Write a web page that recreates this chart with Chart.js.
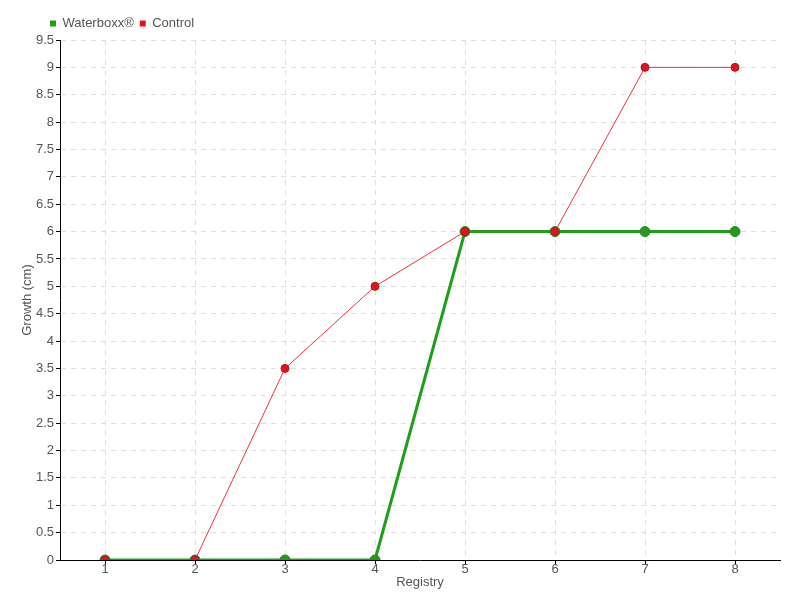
<!DOCTYPE html>
<html>
<head>
<meta charset="utf-8">
<script src="https://cdn.jsdelivr.net/npm/chart.js@4/dist/chart.umd.min.js"></script>
<style>
  html, body { margin: 0; padding: 0; background: #fff; }
  #wrap { width: 800px; height: 600px; }
</style>
</head>
<body>
<div id="wrap"><canvas id="growthChart" width="800" height="600"></canvas></div>
<script>
const registries = ['1', '2', '3', '4', '5', '6', '7', '8'];
const waterboxxGrowth = [0, 0, 0, 0, 6, 6, 6, 6];
const controlGrowth = [0, 0, 3.5, 5, 6, 6, 9, 9];
const yTicks = [0, 0.5, 1, 1.5, 2, 2.5, 3, 3.5, 4, 4.5, 5, 5.5, 6, 6.5, 7, 7.5, 8, 8.5, 9, 9.5];

const FONT = "'Liberation Sans', 'Roboto', sans-serif";
const TEXT = '#555555';

Chart.defaults.font.family = FONT;
Chart.defaults.color = TEXT;

new Chart(document.getElementById('growthChart'), {
    type: 'line',
    data: {
        labels: registries,
        datasets: [
            {
                label: 'Control',
                data: controlGrowth,
                borderColor: '#f0303f',
                backgroundColor: '#e8101e',
                borderWidth: 1,
                pointRadius: 4,
                pointBorderWidth: 1,
                pointBorderColor: '#a02020',
                pointBackgroundColor: '#e8101e',
                tension: 0,
                order: 1
            },
            {
                label: 'Waterboxx®',
                data: waterboxxGrowth,
                borderColor: '#1f9e1a',
                backgroundColor: '#1f9e1a',
                borderWidth: 3,
                pointRadius: 5,
                pointBorderWidth: 1,
                pointBorderColor: '#3a7a30',
                pointBackgroundColor: '#1f9e1a',
                tension: 0,
                order: 2
            }
        ]
    },
    options: {
        responsive: false,
        animation: false,
        layout: { padding: { left: 20, right: 20, top: 11, bottom: 0 } },
        plugins: {
            legend: {
                position: 'top',
                align: 'start',
                reverse: true,
                labels: {
                    boxWidth: 6,
                    boxHeight: 6,
                    padding: 6,
                    font: { size: 13 },
                    color: TEXT,
                    generateLabels: (chart) => {
                        const items = Chart.defaults.plugins.legend.labels.generateLabels(chart);
                        items.forEach(it => { it.lineWidth = 0; it.strokeStyle = it.fillStyle; });
                        return items;
                    }
                }
            },
            tooltip: { enabled: false }
        },
        scales: {
            x: {
                offset: true,
                grid: {
                    color: '#dedede',
                    tickColor: '#000',
                    tickLength: 4,
                    offset: false
                },
                border: { color: '#000', width: 1, dash: [5, 5] },
                ticks: { padding: -2, font: { size: 13 }, color: TEXT },
                title: { display: true, text: 'Registry', font: { size: 13 }, color: TEXT, padding: { top: 0, bottom: 10 } },
                afterFit: (s) => { s.height = 40; }
            },
            y: {
                min: 0,
                max: 9.5,
                afterBuildTicks: (s) => { s.ticks = yTicks.map(v => ({ value: v })); },
                grid: {
                    color: '#dedede',
                    tickColor: '#000',
                    tickLength: 4
                },
                border: { color: '#000', width: 1, dash: [5, 5] },
                ticks: { padding: 2, font: { size: 13 }, color: TEXT, callback: (v) => String(v) },
                title: { display: true, text: 'Growth (cm)', font: { size: 13 }, color: TEXT, padding: { top: 0, bottom: 2 } },
                afterFit: (s) => { s.width = 40; }
            }
        }
    },
    plugins: [{
        id: 'legendShift',
        afterLayout: (chart) => {
            chart.legend.left += 24;
        }
    }]
});
</script>
</body>
</html>
